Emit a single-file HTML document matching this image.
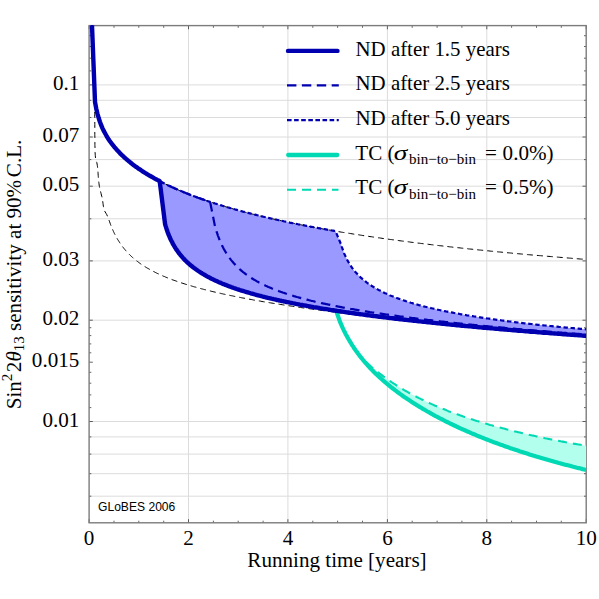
<!DOCTYPE html>
<html><head><meta charset="utf-8"><title>chart</title><style>html,body{margin:0;padding:0;background:#fff}svg{display:block}</style></head><body>
<svg width="599" height="599" viewBox="0 0 599 599">
<defs><clipPath id="c"><rect x="88.8" y="25.1" width="497.6" height="498.1"/></clipPath></defs>
<rect width="599" height="599" fill="#fff"/>
<path d="M188.5,25.6 V522.9 M287.9,25.6 V522.9 M387.4,25.6 V522.9 M486.8,25.6 V522.9 M89.1,84.9 H586.2 M89.1,100.3 H586.2 M89.1,117.5 H586.2 M89.1,137.0 H586.2 M89.1,159.6 H586.2 M89.1,186.2 H586.2 M89.1,218.8 H586.2 M89.1,260.9 H586.2 M89.1,320.2 H586.2 M89.1,421.5 H586.2 M89.1,436.9 H586.2 M89.1,454.1 H586.2 M89.1,473.7 H586.2 M89.1,496.2 H586.2" stroke="#dcdcdc" stroke-width="1" fill="none"/>
<path d="M89.1,522.9 v-3.7 M89.1,25.6 v3.7 M114.0,522.9 v-2.2 M114.0,25.6 v2.2 M138.8,522.9 v-2.2 M138.8,25.6 v2.2 M163.7,522.9 v-2.2 M163.7,25.6 v2.2 M188.5,522.9 v-3.7 M188.5,25.6 v3.7 M213.4,522.9 v-2.2 M213.4,25.6 v2.2 M238.2,522.9 v-2.2 M238.2,25.6 v2.2 M263.1,522.9 v-2.2 M263.1,25.6 v2.2 M287.9,522.9 v-3.7 M287.9,25.6 v3.7 M312.8,522.9 v-2.2 M312.8,25.6 v2.2 M337.6,522.9 v-2.2 M337.6,25.6 v2.2 M362.5,522.9 v-2.2 M362.5,25.6 v2.2 M387.4,522.9 v-3.7 M387.4,25.6 v3.7 M412.2,522.9 v-2.2 M412.2,25.6 v2.2 M437.1,522.9 v-2.2 M437.1,25.6 v2.2 M461.9,522.9 v-2.2 M461.9,25.6 v2.2 M486.8,522.9 v-3.7 M486.8,25.6 v3.7 M511.6,522.9 v-2.2 M511.6,25.6 v2.2 M536.5,522.9 v-2.2 M536.5,25.6 v2.2 M561.3,522.9 v-2.2 M561.3,25.6 v2.2 M586.2,522.9 v-3.7 M586.2,25.6 v3.7 M89.1,35.7 h2.2 M586.2,35.7 h-2.2 M89.1,46.5 h2.2 M586.2,46.5 h-2.2 M89.1,58.2 h2.2 M586.2,58.2 h-2.2 M89.1,70.9 h2.2 M586.2,70.9 h-2.2 M89.1,84.9 h3.7 M586.2,84.9 h-3.7 M89.1,100.3 h2.2 M586.2,100.3 h-2.2 M89.1,117.5 h2.2 M586.2,117.5 h-2.2 M89.1,137.0 h3.7 M586.2,137.0 h-3.7 M89.1,159.6 h2.2 M586.2,159.6 h-2.2 M89.1,186.2 h3.7 M586.2,186.2 h-3.7 M89.1,218.8 h2.2 M586.2,218.8 h-2.2 M89.1,260.9 h3.7 M586.2,260.9 h-3.7 M89.1,320.2 h3.7 M586.2,320.2 h-3.7 M89.1,327.7 h2.2 M586.2,327.7 h-2.2 M89.1,335.6 h2.2 M586.2,335.6 h-2.2 M89.1,343.9 h2.2 M586.2,343.9 h-2.2 M89.1,352.8 h2.2 M586.2,352.8 h-2.2 M89.1,362.2 h3.7 M586.2,362.2 h-3.7 M89.1,372.3 h2.2 M586.2,372.3 h-2.2 M89.1,383.2 h2.2 M586.2,383.2 h-2.2 M89.1,394.9 h2.2 M586.2,394.9 h-2.2 M89.1,407.6 h2.2 M586.2,407.6 h-2.2 M89.1,421.5 h3.7 M586.2,421.5 h-3.7 M89.1,436.9 h2.2 M586.2,436.9 h-2.2 M89.1,454.1 h2.2 M586.2,454.1 h-2.2 M89.1,473.7 h2.2 M586.2,473.7 h-2.2 M89.1,496.2 h2.2 M586.2,496.2 h-2.2" stroke="#222" stroke-width="0.7" fill="none"/>
<rect x="89.1" y="25.6" width="497.1" height="497.2" fill="none" stroke="#7c7c7c" stroke-width="1.4"/>
<g clip-path="url(#c)" fill="none" stroke-linejoin="round">
<path d="M159.7,181.2 L160.9,181.8 L162.1,182.4 L163.3,183.0 L164.5,183.6 L165.7,184.2 L166.9,184.8 L168.1,185.4 L169.3,185.9 L170.5,186.5 L171.7,187.0 L172.9,187.6 L174.1,188.1 L175.4,188.7 L176.6,189.2 L177.8,189.7 L179.0,190.2 L180.2,190.7 L181.4,191.2 L182.6,191.7 L183.8,192.2 L185.0,192.7 L186.2,193.2 L187.4,193.7 L188.6,194.1 L189.8,194.6 L191.0,195.1 L192.2,195.5 L193.4,196.0 L194.6,196.4 L195.8,196.9 L197.0,197.3 L198.2,197.8 L199.4,198.2 L200.6,198.6 L201.8,199.0 L203.0,199.5 L204.3,199.9 L205.5,200.3 L206.7,200.7 L207.9,201.1 L209.1,201.5 L210.3,201.9 L211.5,202.3 L212.7,202.7 L213.9,203.1 L215.1,203.5 L216.3,203.8 L217.5,204.2 L218.7,204.6 L219.9,205.0 L221.1,205.3 L222.3,205.7 L223.5,206.1 L224.7,206.4 L225.9,206.8 L227.1,207.1 L228.3,207.5 L229.5,207.8 L230.7,208.2 L231.9,208.5 L233.2,208.9 L234.4,209.2 L235.6,209.6 L236.8,209.9 L238.0,210.2 L239.2,210.6 L240.4,210.9 L241.6,211.2 L242.8,211.5 L244.0,211.8 L245.2,212.2 L246.4,212.5 L247.6,212.8 L248.8,213.1 L250.0,213.4 L251.2,213.7 L252.4,214.0 L253.6,214.3 L254.8,214.6 L256.0,214.9 L257.2,215.2 L258.4,215.5 L259.6,215.8 L260.8,216.1 L262.0,216.4 L263.3,216.7 L264.5,217.0 L265.7,217.2 L266.9,217.5 L268.1,217.8 L269.3,218.1 L270.5,218.4 L271.7,218.6 L272.9,218.9 L274.1,219.2 L275.3,219.4 L276.5,219.7 L277.7,220.0 L278.9,220.2 L280.1,220.5 L281.3,220.8 L282.5,221.0 L283.7,221.3 L284.9,221.5 L286.1,221.8 L287.3,222.0 L288.5,222.3 L289.7,222.5 L290.9,222.8 L292.2,223.0 L293.4,223.3 L294.6,223.5 L295.8,223.8 L297.0,224.0 L298.2,224.3 L299.4,224.5 L300.6,224.7 L301.8,225.0 L303.0,225.2 L304.2,225.4 L305.4,225.7 L306.6,225.9 L307.8,226.1 L309.0,226.4 L310.2,226.6 L311.4,226.8 L312.6,227.0 L313.8,227.3 L315.0,227.5 L316.2,227.7 L317.4,227.9 L318.6,228.2 L319.8,228.4 L321.1,228.6 L322.3,228.8 L323.5,229.0 L324.7,229.2 L325.9,229.4 L327.1,229.7 L328.3,229.9 L329.5,230.1 L330.7,230.3 L331.9,230.5 L333.1,230.7 L334.3,230.9 L335.5,231.1 L341.3,245.0 L341.3,245.2 L341.4,245.5 L341.6,246.0 L341.7,246.5 L341.9,247.1 L342.1,247.7 L342.4,248.4 L342.6,249.2 L342.9,249.9 L343.2,250.7 L343.5,251.6 L343.8,252.4 L344.1,253.3 L344.5,254.2 L344.9,255.0 L345.3,255.9 L345.7,256.8 L346.1,257.7 L346.5,258.6 L346.9,259.4 L347.4,260.3 L347.9,261.2 L348.4,262.0 L348.9,262.9 L349.4,263.7 L349.9,264.6 L350.4,265.4 L351.0,266.2 L351.5,267.0 L352.1,267.8 L352.7,268.6 L353.3,269.4 L353.9,270.2 L354.5,270.9 L355.1,271.7 L355.8,272.4 L356.4,273.1 L357.1,273.8 L357.7,274.5 L358.4,275.2 L359.1,275.9 L359.8,276.6 L360.5,277.3 L361.2,277.9 L362.0,278.6 L362.7,279.2 L363.5,279.8 L364.2,280.5 L365.0,281.1 L365.8,281.7 L366.5,282.3 L367.3,282.9 L368.2,283.5 L369.0,284.0 L369.8,284.6 L370.6,285.1 L371.5,285.7 L372.3,286.2 L373.2,286.8 L374.0,287.3 L374.9,287.8 L375.8,288.3 L376.7,288.9 L377.6,289.4 L378.5,289.9 L379.4,290.3 L380.4,290.8 L381.3,291.3 L382.3,291.8 L383.2,292.2 L384.2,292.7 L385.1,293.2 L386.1,293.6 L387.1,294.0 L388.1,294.5 L389.1,294.9 L390.1,295.4 L391.1,295.8 L392.2,296.2 L393.2,296.6 L394.2,297.0 L395.3,297.4 L396.3,297.8 L397.4,298.2 L398.5,298.6 L399.6,299.0 L400.6,299.4 L401.7,299.8 L402.8,300.2 L404.0,300.5 L405.1,300.9 L406.2,301.3 L407.3,301.6 L408.5,302.0 L409.6,302.3 L410.8,302.7 L411.9,303.0 L413.1,303.4 L414.3,303.7 L415.5,304.1 L416.6,304.4 L417.8,304.7 L419.0,305.1 L420.3,305.4 L421.5,305.7 L422.7,306.0 L423.9,306.4 L425.2,306.7 L426.4,307.0 L427.7,307.3 L428.9,307.6 L430.2,307.9 L431.5,308.2 L432.8,308.5 L434.0,308.8 L435.3,309.1 L436.6,309.4 L437.9,309.7 L439.3,310.0 L440.6,310.3 L441.9,310.5 L443.2,310.8 L444.6,311.1 L445.9,311.4 L447.3,311.6 L448.6,311.9 L450.0,312.2 L451.4,312.4 L452.8,312.7 L454.1,313.0 L455.5,313.2 L456.9,313.5 L458.3,313.7 L459.7,314.0 L461.2,314.3 L462.6,314.5 L464.0,314.8 L465.4,315.0 L466.9,315.3 L468.3,315.5 L469.8,315.7 L471.3,316.0 L472.7,316.2 L474.2,316.5 L475.7,316.7 L477.2,316.9 L478.7,317.2 L480.2,317.4 L481.7,317.6 L483.2,317.8 L484.7,318.1 L486.2,318.3 L487.7,318.5 L489.3,318.7 L490.8,319.0 L492.4,319.2 L493.9,319.4 L495.5,319.6 L497.0,319.8 L498.6,320.0 L500.2,320.2 L501.8,320.5 L503.3,320.7 L504.9,320.9 L506.5,321.1 L508.1,321.3 L509.8,321.5 L511.4,321.7 L513.0,321.9 L514.6,322.1 L516.3,322.3 L517.9,322.5 L519.5,322.7 L521.2,322.9 L522.9,323.1 L524.5,323.3 L526.2,323.4 L527.9,323.6 L529.5,323.8 L531.2,324.0 L532.9,324.2 L534.6,324.4 L536.3,324.6 L538.0,324.8 L539.7,324.9 L541.5,325.1 L543.2,325.3 L544.9,325.5 L546.6,325.7 L548.4,325.8 L550.1,326.0 L551.9,326.2 L553.6,326.4 L555.4,326.5 L557.2,326.7 L558.9,326.9 L560.7,327.0 L562.5,327.2 L564.3,327.4 L566.1,327.6 L567.9,327.7 L569.7,327.9 L571.5,328.0 L573.3,328.2 L575.2,328.4 L577.0,328.5 L578.8,328.7 L580.7,328.9 L582.5,329.0 L584.3,329.2 L586.2,329.3 L586.2,335.8 L584.3,335.7 L582.4,335.6 L580.6,335.4 L578.7,335.3 L576.8,335.1 L574.9,335.0 L573.1,334.9 L571.2,334.7 L569.3,334.6 L567.5,334.5 L565.6,334.3 L563.8,334.2 L561.9,334.1 L560.1,333.9 L558.2,333.8 L556.4,333.6 L554.6,333.5 L552.7,333.4 L550.9,333.2 L549.1,333.1 L547.3,332.9 L545.5,332.8 L543.6,332.7 L541.8,332.5 L540.0,332.4 L538.2,332.2 L536.4,332.1 L534.6,331.9 L532.8,331.8 L531.0,331.7 L529.2,331.5 L527.5,331.4 L525.7,331.2 L523.9,331.1 L522.1,330.9 L520.3,330.8 L518.6,330.7 L516.8,330.5 L515.0,330.4 L513.3,330.2 L511.5,330.1 L509.8,329.9 L508.0,329.8 L506.3,329.6 L504.5,329.5 L502.8,329.3 L501.1,329.2 L499.3,329.0 L497.6,328.9 L495.9,328.7 L494.2,328.6 L492.4,328.4 L490.7,328.3 L489.0,328.1 L487.3,328.0 L485.6,327.8 L483.9,327.7 L482.2,327.5 L480.5,327.4 L478.8,327.2 L477.1,327.1 L475.4,326.9 L473.8,326.8 L472.1,326.6 L470.4,326.4 L468.7,326.3 L467.1,326.1 L465.4,326.0 L463.7,325.8 L462.1,325.7 L460.4,325.5 L458.8,325.4 L457.1,325.2 L455.5,325.0 L453.8,324.9 L452.2,324.7 L450.6,324.6 L448.9,324.4 L447.3,324.2 L445.7,324.1 L444.1,323.9 L442.5,323.8 L440.9,323.6 L439.2,323.4 L437.6,323.3 L436.0,323.1 L434.4,322.9 L432.8,322.8 L431.3,322.6 L429.7,322.4 L428.1,322.3 L426.5,322.1 L424.9,321.9 L423.4,321.8 L421.8,321.6 L420.2,321.4 L418.7,321.3 L417.1,321.1 L415.5,320.9 L414.0,320.8 L412.4,320.6 L410.9,320.4 L409.4,320.2 L407.8,320.1 L406.3,319.9 L404.8,319.7 L403.2,319.6 L401.7,319.4 L400.2,319.2 L398.7,319.0 L397.2,318.9 L395.7,318.7 L394.2,318.5 L392.7,318.3 L391.2,318.1 L389.7,318.0 L388.2,317.8 L386.7,317.6 L385.2,317.4 L383.7,317.2 L382.3,317.1 L380.8,316.9 L379.3,316.7 L377.9,316.5 L376.4,316.3 L374.9,316.1 L373.5,316.0 L372.0,315.8 L370.6,315.6 L369.2,315.4 L367.7,315.2 L366.3,315.0 L364.9,314.8 L363.4,314.6 L362.0,314.4 L360.6,314.3 L359.2,314.1 L357.8,313.9 L356.4,313.7 L355.0,313.5 L353.6,313.3 L352.2,313.1 L350.8,312.9 L349.4,312.7 L348.0,312.5 L346.6,312.3 L345.3,312.1 L343.9,311.9 L342.5,311.7 L341.2,311.5 L339.8,311.3 L338.4,311.1 L337.1,310.9 L335.8,310.7 L334.4,310.5 L333.1,310.3 L331.7,310.1 L330.4,309.9 L329.1,309.6 L327.8,309.4 L326.4,309.2 L325.1,309.0 L323.8,308.8 L322.5,308.6 L321.2,308.4 L319.9,308.2 L318.6,307.9 L317.3,307.7 L316.0,307.5 L314.7,307.3 L313.5,307.1 L312.2,306.8 L310.9,306.6 L309.7,306.4 L308.4,306.2 L307.1,306.0 L305.9,305.7 L304.6,305.5 L303.4,305.3 L302.1,305.0 L300.9,304.8 L299.7,304.6 L298.5,304.3 L297.2,304.1 L296.0,303.9 L294.8,303.6 L293.6,303.4 L292.4,303.2 L291.2,302.9 L290.0,302.7 L288.8,302.4 L287.6,302.2 L286.4,302.0 L285.2,301.7 L284.0,301.5 L282.9,301.2 L281.7,301.0 L280.5,300.7 L279.4,300.5 L278.2,300.2 L277.1,300.0 L275.9,299.7 L274.8,299.4 L273.6,299.2 L272.5,298.9 L271.4,298.7 L270.3,298.4 L269.1,298.1 L268.0,297.9 L266.9,297.6 L265.8,297.3 L264.7,297.0 L263.6,296.8 L262.5,296.5 L261.4,296.2 L260.4,295.9 L259.3,295.7 L258.2,295.4 L257.1,295.1 L256.1,294.8 L255.0,294.5 L253.9,294.2 L252.9,293.9 L251.9,293.6 L250.8,293.3 L249.8,293.0 L248.7,292.7 L247.7,292.4 L246.7,292.1 L245.7,291.8 L244.7,291.5 L243.7,291.2 L242.7,290.9 L241.7,290.6 L240.7,290.3 L239.7,290.0 L238.7,289.6 L237.7,289.3 L236.7,289.0 L235.8,288.7 L234.8,288.3 L233.8,288.0 L232.9,287.7 L231.9,287.3 L231.0,287.0 L230.1,286.6 L229.1,286.3 L228.2,285.9 L227.3,285.6 L226.4,285.2 L225.4,284.9 L224.5,284.5 L223.6,284.1 L222.7,283.8 L221.8,283.4 L221.0,283.0 L220.1,282.6 L219.2,282.3 L218.3,281.9 L217.5,281.5 L216.6,281.1 L215.7,280.7 L214.9,280.3 L214.0,279.9 L213.2,279.5 L212.4,279.1 L211.5,278.7 L210.7,278.3 L209.9,277.8 L209.1,277.4 L208.3,277.0 L207.5,276.6 L206.7,276.1 L205.9,275.7 L205.1,275.2 L204.3,274.8 L203.6,274.3 L202.8,273.9 L202.0,273.4 L201.3,272.9 L200.5,272.5 L199.8,272.0 L199.1,271.5 L198.3,271.0 L197.6,270.5 L196.9,270.0 L196.2,269.5 L195.5,269.0 L194.8,268.5 L194.1,268.0 L193.4,267.5 L192.7,266.9 L192.0,266.4 L191.3,265.8 L190.7,265.3 L190.0,264.7 L189.4,264.2 L188.7,263.6 L188.1,263.0 L187.5,262.5 L186.8,261.9 L186.2,261.3 L185.6,260.7 L185.0,260.1 L184.4,259.5 L183.8,258.8 L183.2,258.2 L182.7,257.6 L182.1,256.9 L181.5,256.3 L181.0,255.6 L180.4,255.0 L179.9,254.3 L179.3,253.6 L178.8,252.9 L178.3,252.2 L177.8,251.5 L177.3,250.8 L176.8,250.1 L176.3,249.4 L175.8,248.7 L175.3,247.9 L174.9,247.2 L174.4,246.4 L174.0,245.7 L173.5,244.9 L173.1,244.2 L172.7,243.4 L172.3,242.6 L171.9,241.8 L171.5,241.0 L171.1,240.3 L170.7,239.5 L170.3,238.7 L170.0,237.9 L169.6,237.1 L169.3,236.3 L169.0,235.5 L168.6,234.7 L168.3,233.9 L168.0,233.1 L167.7,232.4 L167.5,231.6 L167.2,230.9 L166.9,230.1 L166.7,229.4 L166.5,228.7 L166.3,228.1 L166.1,227.4 L165.9,226.8 L165.7,226.3 L165.6,225.8 L165.4,225.3 L165.3,224.9 L165.2,224.6 L165.1,224.3 L165.1,224.2Z" fill="#9999ff" stroke="none"/>
<path d="M362.0,358.3 L362.0,358.3 L362.1,358.4 L362.3,358.5 L362.5,358.7 L362.6,358.9 L362.9,359.1 L363.1,359.3 L363.4,359.6 L363.7,359.8 L364.0,360.1 L364.3,360.4 L364.6,360.7 L365.0,361.1 L365.4,361.4 L365.8,361.8 L366.2,362.1 L366.6,362.5 L367.0,362.9 L367.5,363.3 L368.0,363.8 L368.4,364.2 L368.9,364.6 L369.5,365.1 L370.0,365.5 L370.5,366.0 L371.1,366.5 L371.6,367.0 L372.2,367.5 L372.8,368.0 L373.4,368.5 L374.0,369.0 L374.6,369.5 L375.3,370.0 L375.9,370.6 L376.6,371.1 L377.3,371.6 L378.0,372.2 L378.6,372.7 L379.4,373.3 L380.1,373.8 L380.8,374.4 L381.5,375.0 L382.3,375.5 L383.1,376.1 L383.8,376.7 L384.6,377.2 L385.4,377.8 L386.2,378.4 L387.0,379.0 L387.8,379.6 L388.7,380.1 L389.5,380.7 L390.4,381.3 L391.2,381.9 L392.1,382.5 L393.0,383.1 L393.9,383.7 L394.8,384.2 L395.7,384.8 L396.6,385.4 L397.5,386.0 L398.4,386.6 L399.4,387.2 L400.3,387.8 L401.3,388.3 L402.3,388.9 L403.3,389.5 L404.2,390.1 L405.2,390.7 L406.2,391.2 L407.3,391.8 L408.3,392.4 L409.3,393.0 L410.4,393.5 L411.4,394.1 L412.5,394.7 L413.5,395.3 L414.6,395.8 L415.7,396.4 L416.8,397.0 L417.9,397.5 L419.0,398.1 L420.1,398.6 L421.2,399.2 L422.4,399.7 L423.5,400.3 L424.7,400.8 L425.8,401.4 L427.0,401.9 L428.2,402.5 L429.3,403.0 L430.5,403.6 L431.7,404.1 L432.9,404.6 L434.1,405.2 L435.3,405.7 L436.6,406.2 L437.8,406.7 L439.0,407.3 L440.3,407.8 L441.6,408.3 L442.8,408.8 L444.1,409.3 L445.4,409.8 L446.7,410.4 L447.9,410.9 L449.2,411.4 L450.6,411.9 L451.9,412.4 L453.2,412.9 L454.5,413.3 L455.9,413.8 L457.2,414.3 L458.6,414.8 L459.9,415.3 L461.3,415.8 L462.7,416.3 L464.0,416.7 L465.4,417.2 L466.8,417.7 L468.2,418.1 L469.6,418.6 L471.0,419.1 L472.5,419.5 L473.9,420.0 L475.3,420.4 L476.8,420.9 L478.2,421.3 L479.7,421.8 L481.1,422.2 L482.6,422.7 L484.1,423.1 L485.6,423.6 L487.1,424.0 L488.6,424.4 L490.1,424.9 L491.6,425.3 L493.1,425.7 L494.6,426.1 L496.1,426.6 L497.7,427.0 L499.2,427.4 L500.8,427.8 L502.3,428.2 L503.9,428.6 L505.5,429.0 L507.0,429.4 L508.6,429.8 L510.2,430.2 L511.8,430.6 L513.4,431.0 L515.0,431.4 L516.6,431.8 L518.2,432.2 L519.9,432.6 L521.5,433.0 L523.1,433.4 L524.8,433.8 L526.4,434.1 L528.1,434.5 L529.8,434.9 L531.4,435.3 L533.1,435.6 L534.8,436.0 L536.5,436.4 L538.2,436.7 L539.9,437.1 L541.6,437.4 L543.3,437.8 L545.0,438.2 L546.7,438.5 L548.5,438.9 L550.2,439.2 L551.9,439.6 L553.7,439.9 L555.4,440.2 L557.2,440.6 L559.0,440.9 L560.8,441.3 L562.5,441.6 L564.3,441.9 L566.1,442.3 L567.9,442.6 L569.7,442.9 L571.5,443.2 L573.3,443.6 L575.2,443.9 L577.0,444.2 L578.8,444.5 L580.7,444.8 L582.5,445.2 L584.3,445.5 L586.2,445.8 L586.2,470.0 L584.3,469.5 L582.5,469.1 L580.6,468.6 L578.8,468.1 L577.0,467.7 L575.1,467.2 L573.3,466.8 L571.5,466.3 L569.7,465.8 L567.9,465.3 L566.1,464.9 L564.3,464.4 L562.5,463.9 L560.7,463.4 L558.9,463.0 L557.2,462.5 L555.4,462.0 L553.6,461.5 L551.9,461.0 L550.1,460.5 L548.4,460.0 L546.6,459.5 L544.9,459.0 L543.1,458.5 L541.4,458.0 L539.7,457.5 L538.0,457.0 L536.3,456.5 L534.6,455.9 L532.9,455.4 L531.2,454.9 L529.5,454.4 L527.8,453.8 L526.1,453.3 L524.5,452.8 L522.8,452.2 L521.1,451.7 L519.5,451.2 L517.8,450.6 L516.2,450.1 L514.6,449.5 L512.9,449.0 L511.3,448.4 L509.7,447.9 L508.1,447.3 L506.5,446.8 L504.9,446.2 L503.3,445.6 L501.7,445.1 L500.1,444.5 L498.5,443.9 L496.9,443.3 L495.4,442.7 L493.8,442.2 L492.3,441.6 L490.7,441.0 L489.2,440.4 L487.6,439.8 L486.1,439.2 L484.6,438.6 L483.1,438.0 L481.5,437.4 L480.0,436.8 L478.5,436.2 L477.0,435.6 L475.6,434.9 L474.1,434.3 L472.6,433.7 L471.1,433.1 L469.7,432.4 L468.2,431.8 L466.8,431.2 L465.3,430.5 L463.9,429.9 L462.4,429.3 L461.0,428.6 L459.6,428.0 L458.2,427.3 L456.8,426.7 L455.4,426.0 L454.0,425.3 L452.6,424.7 L451.2,424.0 L449.8,423.3 L448.5,422.7 L447.1,422.0 L445.7,421.3 L444.4,420.6 L443.0,419.9 L441.7,419.2 L440.4,418.6 L439.0,417.9 L437.7,417.2 L436.4,416.5 L435.1,415.8 L433.8,415.1 L432.5,414.3 L431.2,413.6 L430.0,412.9 L428.7,412.2 L427.4,411.5 L426.2,410.8 L424.9,410.0 L423.7,409.3 L422.4,408.6 L421.2,407.8 L420.0,407.1 L418.8,406.4 L417.6,405.6 L416.4,404.9 L415.2,404.1 L414.0,403.4 L412.8,402.6 L411.6,401.9 L410.5,401.1 L409.3,400.3 L408.2,399.6 L407.0,398.8 L405.9,398.0 L404.7,397.3 L403.6,396.5 L402.5,395.7 L401.4,394.9 L400.3,394.1 L399.2,393.3 L398.1,392.5 L397.0,391.7 L396.0,390.9 L394.9,390.1 L393.9,389.3 L392.8,388.5 L391.8,387.7 L390.7,386.9 L389.7,386.0 L388.7,385.2 L387.7,384.4 L386.7,383.5 L385.7,382.7 L384.7,381.9 L383.7,381.0 L382.8,380.2 L381.8,379.3 L380.9,378.5 L379.9,377.6 L379.0,376.8 L378.1,375.9 L377.1,375.0 L376.2,374.2 L375.3,373.3 L374.4,372.4 L373.5,371.5 L372.7,370.6 L371.8,369.7 L370.9,368.9 L370.1,368.0 L369.3,367.1 L368.4,366.2 L367.6,365.3 L366.8,364.3 L366.0,363.4 L365.2,362.5 L364.4,361.6 L363.6,360.7 L362.9,359.8 L362.1,358.8Z" fill="#b3ffee" stroke="none"/>
<path d="M92.0,25.4 L95.0,101.9 L96.2,108.4 L97.4,113.5 L98.6,117.8 L99.8,121.4 L101.0,124.6 L102.2,127.5 L103.4,130.1 L104.6,132.5 L105.8,134.7 L107.0,136.7 L108.2,138.7 L109.4,140.5 L110.6,142.2 L111.8,143.8 L113.0,145.4 L114.2,146.8 L115.4,148.3 L116.6,149.6 L117.8,150.9 L119.0,152.2 L120.2,153.4 L121.4,154.6 L122.6,155.8 L123.8,156.9 L125.0,158.0 L126.2,159.1 L127.4,160.1 L128.6,161.1 L129.8,162.1 L131.0,163.0 L132.2,164.0 L133.4,164.9 L134.6,165.8 L135.8,166.7 L137.0,167.5 L138.2,168.4 L139.4,169.2 L140.6,170.0 L141.8,170.8 L143.0,171.6 L144.2,172.3 L145.4,173.1 L146.6,173.8 L147.8,174.6 L149.0,175.3 L150.2,176.0 L151.4,176.7 L152.6,177.4 L153.8,178.0 L155.0,178.7 L156.2,179.4 L157.5,180.0 L158.7,180.6 L159.9,181.3 L161.1,181.9 L162.3,182.5 L163.5,183.1 L164.7,183.7 L165.9,184.3 L167.1,184.8 L168.3,185.4 L169.5,186.0 L170.7,186.5 L171.9,187.1 L173.1,187.6 L174.3,188.2 L175.5,188.7 L176.7,189.2 L177.9,189.7 L179.1,190.3 L180.3,190.8 L181.5,191.3 L182.7,191.8 L183.9,192.3 L185.1,192.7 L186.3,193.2 L187.5,193.7 L188.7,194.2 L189.9,194.6 L191.1,195.1 L192.3,195.6 L193.5,196.0 L194.7,196.5 L195.9,196.9 L197.1,197.3 L198.3,197.8 L199.5,198.2 L200.7,198.6 L201.9,199.1 L203.1,199.5 L204.3,199.9 L205.5,200.3 L206.7,200.7 L207.9,201.1 L209.1,201.5 L210.3,201.9 L211.5,202.3 L212.7,202.7 L213.9,203.1 L215.1,203.5 L216.3,203.8 L217.5,204.2 L218.7,204.6 L219.9,205.0 L221.1,205.3 L222.3,205.7 L223.5,206.1 L224.7,206.4 L225.9,206.8 L227.1,207.1 L228.3,207.5 L229.5,207.8 L230.7,208.2 L231.9,208.5 L233.1,208.9 L234.3,209.2 L235.5,209.5 L236.7,209.9 L237.9,210.2 L239.1,210.5 L240.3,210.9 L241.5,211.2 L242.7,211.5 L243.9,211.8 L245.1,212.1 L246.3,212.5 L247.5,212.8 L248.7,213.1 L249.9,213.4 L251.1,213.7 L252.3,214.0 L253.5,214.3 L254.7,214.6 L255.9,214.9 L257.1,215.2 L258.3,215.5 L259.5,215.8 L260.7,216.1 L261.9,216.4 L263.1,216.6 L264.3,216.9 L265.5,217.2 L266.7,217.5 L267.9,217.8 L269.1,218.0 L270.3,218.3 L271.5,218.6 L272.7,218.9 L273.9,219.1 L275.1,219.4 L276.3,219.7 L277.5,219.9 L278.7,220.2 L280.0,220.5 L281.2,220.7 L282.4,221.0 L283.6,221.2 L284.8,221.5 L286.0,221.8 L287.2,222.0 L288.4,222.3 L289.6,222.5 L290.8,222.8 L292.0,223.0 L293.2,223.2 L294.4,223.5 L295.6,223.7 L296.8,224.0 L298.0,224.2 L299.2,224.5 L300.4,224.7 L301.6,224.9 L302.8,225.2 L304.0,225.4 L305.2,225.6 L306.4,225.9 L307.6,226.1 L308.8,226.3 L310.0,226.5 L311.2,226.8 L312.4,227.0 L313.6,227.2 L314.8,227.4 L316.0,227.7 L317.2,227.9 L318.4,228.1 L319.6,228.3 L320.8,228.5 L322.0,228.8 L323.2,229.0 L324.4,229.2 L325.6,229.4 L326.8,229.6 L328.0,229.8 L329.2,230.0 L330.4,230.2 L331.6,230.4 L332.8,230.6 L334.0,230.8 L335.2,231.1 L336.4,231.3 L337.6,231.5 L338.8,231.7 L340.0,231.9 L341.2,232.1 L342.4,232.3 L343.6,232.5 L344.8,232.6 L346.0,232.8 L347.2,233.0 L348.4,233.2 L349.6,233.4 L350.8,233.6 L352.0,233.8 L353.2,234.0 L354.4,234.2 L355.6,234.4 L356.8,234.6 L358.0,234.7 L359.2,234.9 L360.4,235.1 L361.6,235.3 L362.8,235.5 L364.0,235.7 L365.2,235.8 L366.4,236.0 L367.6,236.2 L368.8,236.4 L370.0,236.6 L371.2,236.7 L372.4,236.9 L373.6,237.1 L374.8,237.3 L376.0,237.4 L377.2,237.6 L378.4,237.8 L379.6,237.9 L380.8,238.1 L382.0,238.3 L383.2,238.5 L384.4,238.6 L385.6,238.8 L386.8,239.0 L388.0,239.1 L389.2,239.3 L390.4,239.5 L391.6,239.6 L392.8,239.8 L394.0,239.9 L395.2,240.1 L396.4,240.3 L397.6,240.4 L398.8,240.6 L400.0,240.8 L401.2,240.9 L402.5,241.1 L403.7,241.2 L404.9,241.4 L406.1,241.5 L407.3,241.7 L408.5,241.8 L409.7,242.0 L410.9,242.2 L412.1,242.3 L413.3,242.5 L414.5,242.6 L415.7,242.8 L416.9,242.9 L418.1,243.1 L419.3,243.2 L420.5,243.4 L421.7,243.5 L422.9,243.7 L424.1,243.8 L425.3,243.9 L426.5,244.1 L427.7,244.2 L428.9,244.4 L430.1,244.5 L431.3,244.7 L432.5,244.8 L433.7,245.0 L434.9,245.1 L436.1,245.2 L437.3,245.4 L438.5,245.5 L439.7,245.7 L440.9,245.8 L442.1,245.9 L443.3,246.1 L444.5,246.2 L445.7,246.3 L446.9,246.5 L448.1,246.6 L449.3,246.8 L450.5,246.9 L451.7,247.0 L452.9,247.2 L454.1,247.3 L455.3,247.4 L456.5,247.6 L457.7,247.7 L458.9,247.8 L460.1,247.9 L461.3,248.1 L462.5,248.2 L463.7,248.3 L464.9,248.5 L466.1,248.6 L467.3,248.7 L468.5,248.9 L469.7,249.0 L470.9,249.1 L472.1,249.2 L473.3,249.4 L474.5,249.5 L475.7,249.6 L476.9,249.7 L478.1,249.9 L479.3,250.0 L480.5,250.1 L481.7,250.2 L482.9,250.3 L484.1,250.5 L485.3,250.6 L486.5,250.7 L487.7,250.8 L488.9,250.9 L490.1,251.1 L491.3,251.2 L492.5,251.3 L493.7,251.4 L494.9,251.5 L496.1,251.7 L497.3,251.8 L498.5,251.9 L499.7,252.0 L500.9,252.1 L502.1,252.2 L503.3,252.4 L504.5,252.5 L505.7,252.6 L506.9,252.7 L508.1,252.8 L509.3,252.9 L510.5,253.0 L511.7,253.1 L512.9,253.3 L514.1,253.4 L515.3,253.5 L516.5,253.6 L517.7,253.7 L518.9,253.8 L520.1,253.9 L521.3,254.0 L522.5,254.1 L523.7,254.2 L525.0,254.4 L526.2,254.5 L527.4,254.6 L528.6,254.7 L529.8,254.8 L531.0,254.9 L532.2,255.0 L533.4,255.1 L534.6,255.2 L535.8,255.3 L537.0,255.4 L538.2,255.5 L539.4,255.6 L540.6,255.7 L541.8,255.8 L543.0,255.9 L544.2,256.0 L545.4,256.1 L546.6,256.2 L547.8,256.3 L549.0,256.4 L550.2,256.5 L551.4,256.6 L552.6,256.7 L553.8,256.8 L555.0,256.9 L556.2,257.0 L557.4,257.1 L558.6,257.2 L559.8,257.3 L561.0,257.4 L562.2,257.5 L563.4,257.6 L564.6,257.7 L565.8,257.8 L567.0,257.9 L568.2,258.0 L569.4,258.1 L570.6,258.2 L571.8,258.3 L573.0,258.4 L574.2,258.5 L575.4,258.6 L576.6,258.7 L577.8,258.8 L579.0,258.9 L580.2,259.0 L581.4,259.1 L582.6,259.1 L583.8,259.2 L585.0,259.3 L586.2,259.4" stroke="#000" stroke-width="1" stroke-dasharray="6 4"/>
<path d="M94.6,102.0 L94.6,103.4 L94.6,104.8 L94.7,106.2 L94.7,107.6 L94.7,109.0 L94.7,110.5 L94.7,111.9 L94.7,113.3 L94.7,114.7 L94.7,116.1 L94.8,117.5 L94.8,118.9 L94.8,120.3 L94.8,121.7 L94.8,123.1 L94.8,124.5 L94.8,126.0 L94.8,127.4 L94.8,128.8 L94.8,130.2 L94.8,131.6 L94.8,133.0 L94.8,134.4 L94.8,135.8 L94.9,137.2 L94.9,138.6 L94.9,140.0 L94.9,141.5 L94.9,142.9 L94.9,144.3 L94.9,145.7 L95.0,147.1 L95.0,148.5 L95.0,149.9 L95.0,151.3 L95.1,152.7 L95.2,154.1 L95.3,155.5 L95.4,157.0 L95.6,158.4 L95.8,159.8 L96.2,161.2 L96.8,162.6 L97.1,164.0 L97.3,165.4 L97.5,166.8 L97.7,168.2 L97.8,169.6 L97.9,171.0 L98.0,172.4 L98.1,173.9 L98.2,175.3 L98.3,176.7 L98.4,178.1 L98.6,179.5 L98.7,180.9 L98.8,182.3 L99.0,183.7 L99.2,185.1 L99.4,186.5 L99.7,187.9 L100.0,189.4 L100.4,190.8 L100.7,192.2 L101.1,193.6 L101.4,195.0 L101.8,196.4 L102.1,197.8 L102.4,199.2 L102.6,200.6 L102.8,202.0 L103.0,203.4 L103.2,204.9 L103.4,206.3 L103.7,207.7 L104.0,209.1 L104.4,210.5 L105.1,211.9 L106.0,213.3 L106.8,214.7 L107.4,216.1 L108.0,217.5 L108.6,218.9 L109.1,220.4 L109.6,221.8 L110.1,223.2 L110.6,224.6 L111.1,226.0 L111.7,227.4 L111.7,227.5 L111.8,227.7 L111.9,227.9 L112.0,228.1 L112.1,228.4 L112.3,228.8 L112.4,229.1 L112.6,229.5 L112.8,230.0 L113.0,230.4 L113.2,230.9 L113.4,231.4 L113.7,231.9 L113.9,232.4 L114.2,232.9 L114.4,233.5 L114.7,234.0 L115.0,234.6 L115.3,235.2 L115.6,235.8 L115.9,236.4 L116.2,237.0 L116.6,237.6 L116.9,238.2 L117.3,238.8 L117.6,239.4 L118.0,240.0 L118.4,240.6 L118.8,241.2 L119.2,241.9 L119.6,242.5 L120.0,243.1 L120.4,243.7 L120.8,244.3 L121.2,244.9 L121.7,245.5 L122.1,246.1 L122.6,246.7 L123.1,247.3 L123.5,247.9 L124.0,248.5 L124.5,249.1 L125.0,249.7 L125.5,250.3 L126.0,250.9 L126.5,251.4 L127.0,252.0 L127.5,252.6 L128.1,253.1 L128.6,253.7 L129.1,254.2 L129.7,254.8 L130.2,255.3 L130.8,255.8 L131.4,256.4 L132.0,256.9 L132.5,257.4 L133.1,257.9 L133.7,258.5 L134.3,259.0 L134.9,259.5 L135.5,260.0 L136.2,260.5 L136.8,261.0 L137.4,261.4 L138.0,261.9 L138.7,262.4 L139.3,262.9 L140.0,263.3 L140.6,263.8 L141.3,264.3 L142.0,264.7 L142.7,265.2 L143.3,265.6 L144.0,266.1 L144.7,266.5 L145.4,266.9 L146.1,267.4 L146.8,267.8 L147.5,268.2 L148.3,268.6 L149.0,269.0 L149.7,269.4 L150.5,269.9 L151.2,270.3 L151.9,270.7 L152.7,271.1 L153.4,271.4 L154.2,271.8 L155.0,272.2 L155.7,272.6 L156.5,273.0 L157.3,273.4 L158.1,273.7 L158.9,274.1 L159.7,274.5 L160.5,274.8 L161.3,275.2 L162.1,275.6 L162.9,275.9 L163.7,276.3 L164.6,276.6 L165.4,277.0 L166.2,277.3 L167.1,277.7 L167.9,278.0 L168.8,278.3 L169.6,278.7 L170.5,279.0 L171.4,279.3 L172.2,279.7 L173.1,280.0 L174.0,280.3 L174.9,280.6 L175.8,280.9 L176.7,281.3 L177.6,281.6 L178.5,281.9 L179.4,282.2 L180.3,282.5 L181.2,282.8 L182.1,283.1 L183.0,283.4 L184.0,283.7 L184.9,284.0 L185.8,284.3 L186.8,284.6 L187.7,284.9 L188.7,285.2 L189.6,285.4 L190.6,285.7 L191.6,286.0 L192.5,286.3 L193.5,286.6 L194.5,286.9 L195.5,287.1 L196.5,287.4 L197.5,287.7 L198.5,288.0 L199.5,288.2 L200.5,288.5 L201.5,288.8 L202.5,289.0 L203.5,289.3 L204.5,289.6 L205.6,289.8 L206.6,290.1 L207.6,290.3 L208.7,290.6 L209.7,290.8 L210.7,291.1 L211.8,291.4 L212.9,291.6 L213.9,291.9 L215.0,292.1 L216.0,292.4 L217.1,292.6 L218.2,292.9 L219.3,293.1 L220.4,293.3 L221.4,293.6 L222.5,293.8 L223.6,294.1 L224.7,294.3 L225.8,294.5 L227.0,294.8 L228.1,295.0 L229.2,295.2 L230.3,295.5 L231.4,295.7 L232.6,295.9 L233.7,296.2 L234.8,296.4 L236.0,296.6 L237.1,296.9 L238.3,297.1 L239.4,297.3 L240.6,297.5 L241.7,297.8 L242.9,298.0 L244.1,298.2 L245.2,298.4 L246.4,298.7 L247.6,298.9 L248.8,299.1 L250.0,299.3 L251.2,299.5 L252.3,299.7 L253.5,300.0 L254.7,300.2 L256.0,300.4 L257.2,300.6 L258.4,300.8 L259.6,301.0 L260.8,301.2 L262.0,301.5 L263.3,301.7 L264.5,301.9 L265.7,302.1 L267.0,302.3 L268.2,302.5 L269.5,302.7 L270.7,302.9 L272.0,303.1 L273.2,303.3 L274.5,303.5 L275.8,303.7 L277.0,303.9 L278.3,304.1 L279.6,304.3 L280.9,304.5 L282.2,304.7 L283.4,304.9 L284.7,305.1 L286.0,305.3 L287.3,305.5 L288.6,305.7 L289.9,305.9 L291.2,306.1 L292.6,306.3 L293.9,306.5 L295.2,306.7 L296.5,306.9 L297.9,307.1 L299.2,307.3 L300.5,307.5 L301.9,307.7 L303.2,307.9 L304.5,308.1 L305.9,308.2 L307.2,308.4 L308.6,308.6 L310.0,308.8 L311.3,309.0 L312.7,309.2 L314.1,309.4 L315.4,309.6 L316.8,309.8 L318.2,309.9 L319.6,310.1 L321.0,310.3 L322.4,310.5 L323.8,310.7 L325.2,310.9 L326.6,311.1 L328.0,311.2 L329.4,311.4 L330.8,311.6 L332.2,311.8 L333.6,312.0 L335.0,312.1 L336.5,312.3 L337.9,312.5 L339.3,312.7 L340.8,312.9 L342.2,313.0 L343.6,313.2 L345.1,313.4 L346.5,313.6 L348.0,313.8 L349.4,313.9 L350.9,314.1 L352.4,314.3 L353.8,314.5 L355.3,314.6 L356.8,314.8 L358.2,315.0 L359.7,315.2 L361.2,315.4 L362.7,315.5 L364.2,315.7 L365.7,315.9 L367.2,316.0 L368.7,316.2 L370.2,316.4 L371.7,316.6 L373.2,316.7 L374.7,316.9 L376.2,317.1 L377.7,317.3 L379.2,317.4 L380.8,317.6 L382.3,317.8 L383.8,317.9 L385.4,318.1 L386.9,318.3 L388.4,318.4 L390.0,318.6 L391.5,318.8 L393.1,319.0 L394.6,319.1 L396.2,319.3 L397.8,319.5 L399.3,319.6 L400.9,319.8 L402.5,320.0 L404.0,320.1 L405.6,320.3 L407.2,320.5 L408.8,320.6 L410.4,320.8 L412.0,321.0 L413.5,321.1 L415.1,321.3 L416.7,321.5 L418.3,321.6 L419.9,321.8 L421.6,322.0 L423.2,322.1 L424.8,322.3 L426.4,322.4 L428.0,322.6 L429.6,322.8 L431.3,322.9 L432.9,323.1 L434.5,323.3 L436.2,323.4 L437.8,323.6 L439.4,323.7 L441.1,323.9 L442.7,324.1 L444.4,324.2 L446.0,324.4 L447.7,324.5 L449.4,324.7 L451.0,324.9 L452.7,325.0 L454.4,325.2 L456.0,325.3 L457.7,325.5 L459.4,325.7 L461.1,325.8 L462.8,326.0 L464.5,326.1 L466.1,326.3 L467.8,326.5 L469.5,326.6 L471.2,326.8 L472.9,326.9 L474.6,327.1 L476.4,327.2 L478.1,327.4 L479.8,327.6 L481.5,327.7 L483.2,327.9 L484.9,328.0 L486.7,328.2 L488.4,328.3 L490.1,328.5 L491.9,328.7 L493.6,328.8 L495.4,329.0 L497.1,329.1 L498.9,329.3 L500.6,329.4 L502.4,329.6 L504.1,329.7 L505.9,329.9 L507.6,330.1 L509.4,330.2 L511.2,330.4 L512.9,330.5 L514.7,330.7 L516.5,330.8 L518.3,331.0 L520.1,331.1 L521.8,331.3 L523.6,331.4 L525.4,331.6 L527.2,331.7 L529.0,331.9 L530.8,332.0 L532.6,332.2 L534.4,332.3 L536.2,332.5 L538.1,332.7 L539.9,332.8 L541.7,333.0 L543.5,333.1 L545.3,333.3 L547.2,333.4 L549.0,333.6 L550.8,333.7 L552.7,333.9 L554.5,334.0 L556.3,334.2 L558.2,334.3 L560.0,334.5 L561.9,334.6 L563.7,334.8 L565.6,334.9 L567.5,335.1 L569.3,335.2 L571.2,335.4 L573.0,335.5 L574.9,335.7 L576.8,335.8 L578.7,335.9 L580.5,336.1 L582.4,336.2 L584.3,336.4 L586.2,336.5" stroke="#000" stroke-width="1" stroke-dasharray="6 4"/>
<path d="M92.0,25.4 L95.0,101.9 L96.2,108.4 L97.4,113.5 L98.6,117.8 L99.8,121.5 L101.0,124.7 L102.2,127.5 L103.4,130.1 L104.6,132.5 L105.8,134.7 L107.0,136.8 L108.2,138.7 L109.4,140.5 L110.6,142.2 L111.8,143.8 L113.0,145.4 L114.2,146.9 L115.4,148.3 L116.6,149.7 L117.8,151.0 L119.0,152.2 L120.3,153.5 L121.5,154.7 L122.7,155.8 L123.9,156.9 L125.1,158.0 L126.3,159.1 L127.5,160.1 L128.7,161.1 L129.9,162.1 L131.1,163.1 L132.3,164.0 L133.5,164.9 L134.7,165.8 L135.9,166.7 L137.1,167.6 L138.3,168.4 L139.5,169.2 L140.7,170.0 L141.9,170.8 L143.1,171.6 L144.3,172.4 L145.5,173.1 L146.7,173.9 L147.9,174.6 L149.1,175.3 L150.3,176.0 L151.5,176.7 L152.7,177.4 L153.9,178.1 L155.1,178.7 L156.3,179.4 L157.5,180.0 L158.7,180.7 L159.9,181.3 L161.1,181.9 L162.3,182.5 L163.5,183.1 L164.7,183.7 L165.9,184.3 L167.1,184.9 L168.4,185.5 L169.6,186.0 L170.8,186.6 L172.0,187.1 L173.2,187.7 L174.4,188.2 L175.6,188.7 L176.8,189.3 L178.0,189.8 L179.2,190.3 L180.4,190.8 L181.6,191.3 L182.8,191.8 L184.0,192.3 L185.2,192.8 L186.4,193.3 L187.6,193.7 L188.8,194.2 L190.0,194.7 L191.2,195.1 L192.4,195.6 L193.6,196.1 L194.8,196.5 L196.0,196.9 L197.2,197.4 L198.4,197.8 L199.6,198.3 L200.8,198.7 L202.0,199.1 L203.2,199.5 L204.4,199.9 L205.6,200.3 L206.8,200.8 L208.0,201.2 L209.2,201.6 L210.4,202.0 L211.6,202.4 L212.8,202.7 L214.0,203.1 L215.2,203.5 L216.5,203.9 L217.7,204.3 L218.9,204.6 L220.1,205.0 L221.3,205.4 L222.5,205.8 L223.7,206.1 L224.9,206.5 L226.1,206.8 L227.3,207.2 L228.5,207.5 L229.7,207.9 L230.9,208.2 L232.1,208.6 L233.3,208.9 L234.5,209.3 L235.7,209.6 L236.9,209.9 L238.1,210.3 L239.3,210.6 L240.5,210.9 L241.7,211.2 L242.9,211.6 L244.1,211.9 L245.3,212.2 L246.5,212.5 L247.7,212.8 L248.9,213.1 L250.1,213.4 L251.3,213.7 L252.5,214.0 L253.7,214.3 L254.9,214.6 L256.1,214.9 L257.3,215.2 L258.5,215.5 L259.7,215.8 L260.9,216.1 L262.1,216.4 L263.4,216.7 L264.6,217.0 L265.8,217.3 L267.0,217.5 L268.2,217.8 L269.4,218.1 L270.6,218.4 L271.8,218.6 L273.0,218.9 L274.2,219.2 L275.4,219.5 L276.6,219.7 L277.8,220.0 L279.0,220.3 L280.2,220.5 L281.4,220.8 L282.6,221.0 L283.8,221.3 L285.0,221.5 L286.2,221.8 L287.4,222.1 L288.6,222.3 L289.8,222.6 L291.0,222.8 L292.2,223.1 L293.4,223.3 L294.6,223.5 L295.8,223.8 L297.0,224.0 L298.2,224.3 L299.4,224.5 L300.6,224.7 L301.8,225.0 L303.0,225.2 L304.2,225.4 L305.4,225.7 L306.6,225.9 L307.8,226.1 L309.0,226.4 L310.2,226.6 L311.4,226.8 L312.7,227.0 L313.9,227.3 L315.1,227.5 L316.3,227.7 L317.5,227.9 L318.7,228.2 L319.9,228.4 L321.1,228.6 L322.3,228.8 L323.5,229.0 L324.7,229.2 L325.9,229.4 L327.1,229.7 L328.3,229.9 L329.5,230.1 L330.7,230.3 L331.9,230.5 L333.1,230.7 L334.3,230.9 L335.5,231.1 L341.3,245.0 L341.3,245.2 L341.4,245.5 L341.6,246.0 L341.7,246.5 L341.9,247.1 L342.1,247.7 L342.4,248.4 L342.6,249.2 L342.9,249.9 L343.2,250.7 L343.5,251.6 L343.8,252.4 L344.1,253.3 L344.5,254.2 L344.9,255.0 L345.3,255.9 L345.7,256.8 L346.1,257.7 L346.5,258.6 L346.9,259.4 L347.4,260.3 L347.9,261.2 L348.4,262.0 L348.9,262.9 L349.4,263.7 L349.9,264.6 L350.4,265.4 L351.0,266.2 L351.5,267.0 L352.1,267.8 L352.7,268.6 L353.3,269.4 L353.9,270.2 L354.5,270.9 L355.1,271.7 L355.8,272.4 L356.4,273.1 L357.1,273.8 L357.7,274.5 L358.4,275.2 L359.1,275.9 L359.8,276.6 L360.5,277.3 L361.2,277.9 L362.0,278.6 L362.7,279.2 L363.5,279.8 L364.2,280.5 L365.0,281.1 L365.8,281.7 L366.5,282.3 L367.3,282.9 L368.2,283.5 L369.0,284.0 L369.8,284.6 L370.6,285.1 L371.5,285.7 L372.3,286.2 L373.2,286.8 L374.0,287.3 L374.9,287.8 L375.8,288.3 L376.7,288.9 L377.6,289.4 L378.5,289.9 L379.4,290.3 L380.4,290.8 L381.3,291.3 L382.3,291.8 L383.2,292.2 L384.2,292.7 L385.1,293.2 L386.1,293.6 L387.1,294.0 L388.1,294.5 L389.1,294.9 L390.1,295.4 L391.1,295.8 L392.2,296.2 L393.2,296.6 L394.2,297.0 L395.3,297.4 L396.3,297.8 L397.4,298.2 L398.5,298.6 L399.6,299.0 L400.6,299.4 L401.7,299.8 L402.8,300.2 L404.0,300.5 L405.1,300.9 L406.2,301.3 L407.3,301.6 L408.5,302.0 L409.6,302.3 L410.8,302.7 L411.9,303.0 L413.1,303.4 L414.3,303.7 L415.5,304.1 L416.6,304.4 L417.8,304.7 L419.0,305.1 L420.3,305.4 L421.5,305.7 L422.7,306.0 L423.9,306.4 L425.2,306.7 L426.4,307.0 L427.7,307.3 L428.9,307.6 L430.2,307.9 L431.5,308.2 L432.8,308.5 L434.0,308.8 L435.3,309.1 L436.6,309.4 L437.9,309.7 L439.3,310.0 L440.6,310.3 L441.9,310.5 L443.2,310.8 L444.6,311.1 L445.9,311.4 L447.3,311.6 L448.6,311.9 L450.0,312.2 L451.4,312.4 L452.8,312.7 L454.1,313.0 L455.5,313.2 L456.9,313.5 L458.3,313.7 L459.7,314.0 L461.2,314.3 L462.6,314.5 L464.0,314.8 L465.4,315.0 L466.9,315.3 L468.3,315.5 L469.8,315.7 L471.3,316.0 L472.7,316.2 L474.2,316.5 L475.7,316.7 L477.2,316.9 L478.7,317.2 L480.2,317.4 L481.7,317.6 L483.2,317.8 L484.7,318.1 L486.2,318.3 L487.7,318.5 L489.3,318.7 L490.8,319.0 L492.4,319.2 L493.9,319.4 L495.5,319.6 L497.0,319.8 L498.6,320.0 L500.2,320.2 L501.8,320.5 L503.3,320.7 L504.9,320.9 L506.5,321.1 L508.1,321.3 L509.8,321.5 L511.4,321.7 L513.0,321.9 L514.6,322.1 L516.3,322.3 L517.9,322.5 L519.5,322.7 L521.2,322.9 L522.9,323.1 L524.5,323.3 L526.2,323.4 L527.9,323.6 L529.5,323.8 L531.2,324.0 L532.9,324.2 L534.6,324.4 L536.3,324.6 L538.0,324.8 L539.7,324.9 L541.5,325.1 L543.2,325.3 L544.9,325.5 L546.6,325.7 L548.4,325.8 L550.1,326.0 L551.9,326.2 L553.6,326.4 L555.4,326.5 L557.2,326.7 L558.9,326.9 L560.7,327.0 L562.5,327.2 L564.3,327.4 L566.1,327.6 L567.9,327.7 L569.7,327.9 L571.5,328.0 L573.3,328.2 L575.2,328.4 L577.0,328.5 L578.8,328.7 L580.7,328.9 L582.5,329.0 L584.3,329.2 L586.2,329.3" stroke="#0000b0" stroke-width="2.2" stroke-dasharray="4.4 2.7"/>
<path d="M92.0,25.4 L95.0,101.9 L96.2,108.4 L97.4,113.6 L98.6,117.9 L99.8,121.6 L101.1,124.8 L102.3,127.7 L103.5,130.3 L104.7,132.7 L105.9,134.9 L107.1,136.9 L108.3,138.8 L109.5,140.6 L110.8,142.4 L112.0,144.0 L113.2,145.6 L114.4,147.0 L115.6,148.5 L116.8,149.8 L118.0,151.2 L119.2,152.4 L120.4,153.7 L121.7,154.9 L122.9,156.0 L124.1,157.1 L125.3,158.2 L126.5,159.3 L127.7,160.3 L128.9,161.3 L130.1,162.3 L131.3,163.3 L132.6,164.2 L133.8,165.1 L135.0,166.0 L136.2,166.9 L137.4,167.8 L138.6,168.6 L139.8,169.5 L141.0,170.3 L142.3,171.1 L143.5,171.9 L144.7,172.6 L145.9,173.4 L147.1,174.1 L148.3,174.8 L149.5,175.6 L150.7,176.3 L151.9,177.0 L153.2,177.7 L154.4,178.3 L155.6,179.0 L156.8,179.7 L158.0,180.3 L159.2,180.9 L160.4,181.6 L161.6,182.2 L162.8,182.8 L164.1,183.4 L165.3,184.0 L166.5,184.6 L167.7,185.2 L168.9,185.7 L170.1,186.3 L171.3,186.8 L172.5,187.4 L173.8,187.9 L175.0,188.5 L176.2,189.0 L177.4,189.5 L178.6,190.1 L179.8,190.6 L181.0,191.1 L182.2,191.6 L183.4,192.1 L184.7,192.6 L185.9,193.1 L187.1,193.5 L188.3,194.0 L189.5,194.5 L190.7,195.0 L191.9,195.4 L193.1,195.9 L194.3,196.3 L195.6,196.8 L196.8,197.2 L198.0,197.7 L199.2,198.1 L200.4,198.5 L201.6,199.0 L202.8,199.4 L204.0,199.8 L205.3,200.2 L206.5,200.6 L207.7,201.0 L208.9,201.4 L210.1,201.8 L215.0,226.4 L215.0,226.6 L215.1,226.8 L215.2,227.2 L215.3,227.6 L215.5,228.1 L215.7,228.6 L215.8,229.2 L216.0,229.8 L216.2,230.5 L216.5,231.2 L216.7,232.0 L217.0,232.8 L217.3,233.6 L217.5,234.4 L217.8,235.3 L218.1,236.1 L218.5,237.0 L218.8,237.9 L219.1,238.8 L219.5,239.7 L219.8,240.5 L220.2,241.4 L220.6,242.3 L221.0,243.2 L221.4,244.1 L221.8,245.0 L222.2,245.9 L222.7,246.8 L223.1,247.6 L223.6,248.5 L224.0,249.3 L224.5,250.2 L225.0,251.0 L225.5,251.8 L226.0,252.7 L226.5,253.5 L227.0,254.3 L227.5,255.1 L228.1,255.9 L228.6,256.6 L229.1,257.4 L229.7,258.2 L230.3,258.9 L230.8,259.6 L231.4,260.4 L232.0,261.1 L232.6,261.8 L233.2,262.5 L233.8,263.2 L234.4,263.9 L235.1,264.6 L235.7,265.2 L236.3,265.9 L237.0,266.6 L237.6,267.2 L238.3,267.8 L239.0,268.5 L239.6,269.1 L240.3,269.7 L241.0,270.3 L241.7,270.9 L242.4,271.5 L243.1,272.1 L243.8,272.6 L244.6,273.2 L245.3,273.8 L246.0,274.3 L246.8,274.8 L247.5,275.4 L248.3,275.9 L249.1,276.4 L249.8,277.0 L250.6,277.5 L251.4,278.0 L252.2,278.5 L253.0,279.0 L253.8,279.5 L254.6,279.9 L255.4,280.4 L256.2,280.9 L257.0,281.4 L257.9,281.8 L258.7,282.3 L259.6,282.7 L260.4,283.2 L261.3,283.6 L262.1,284.0 L263.0,284.5 L263.9,284.9 L264.8,285.3 L265.6,285.7 L266.5,286.1 L267.4,286.5 L268.3,286.9 L269.3,287.3 L270.2,287.7 L271.1,288.1 L272.0,288.5 L273.0,288.9 L273.9,289.3 L274.8,289.6 L275.8,290.0 L276.8,290.4 L277.7,290.7 L278.7,291.1 L279.7,291.4 L280.6,291.8 L281.6,292.1 L282.6,292.5 L283.6,292.8 L284.6,293.1 L285.6,293.5 L286.6,293.8 L287.6,294.1 L288.7,294.5 L289.7,294.8 L290.7,295.1 L291.8,295.4 L292.8,295.7 L293.8,296.1 L294.9,296.4 L296.0,296.7 L297.0,297.0 L298.1,297.3 L299.2,297.6 L300.3,297.9 L301.3,298.2 L302.4,298.5 L303.5,298.8 L304.6,299.1 L305.7,299.3 L306.8,299.6 L308.0,299.9 L309.1,300.2 L310.2,300.5 L311.3,300.8 L312.5,301.0 L313.6,301.3 L314.8,301.6 L315.9,301.8 L317.1,302.1 L318.2,302.4 L319.4,302.6 L320.6,302.9 L321.7,303.2 L322.9,303.4 L324.1,303.7 L325.3,303.9 L326.5,304.2 L327.7,304.4 L328.9,304.7 L330.1,304.9 L331.3,305.2 L332.5,305.4 L333.8,305.7 L335.0,305.9 L336.2,306.2 L337.5,306.4 L338.7,306.7 L339.9,306.9 L341.2,307.1 L342.4,307.4 L343.7,307.6 L345.0,307.8 L346.2,308.1 L347.5,308.3 L348.8,308.5 L350.1,308.8 L351.4,309.0 L352.7,309.2 L354.0,309.4 L355.3,309.7 L356.6,309.9 L357.9,310.1 L359.2,310.3 L360.5,310.6 L361.8,310.8 L363.2,311.0 L364.5,311.2 L365.8,311.4 L367.2,311.6 L368.5,311.8 L369.9,312.1 L371.2,312.3 L372.6,312.5 L374.0,312.7 L375.3,312.9 L376.7,313.1 L378.1,313.3 L379.5,313.5 L380.9,313.7 L382.3,313.9 L383.7,314.1 L385.1,314.3 L386.5,314.5 L387.9,314.7 L389.3,314.9 L390.7,315.1 L392.1,315.3 L393.5,315.5 L395.0,315.7 L396.4,315.9 L397.9,316.1 L399.3,316.3 L400.7,316.5 L402.2,316.7 L403.7,316.9 L405.1,317.1 L406.6,317.3 L408.0,317.5 L409.5,317.6 L411.0,317.8 L412.5,318.0 L414.0,318.2 L415.5,318.4 L416.9,318.6 L418.4,318.8 L419.9,318.9 L421.5,319.1 L423.0,319.3 L424.5,319.5 L426.0,319.7 L427.5,319.9 L429.0,320.0 L430.6,320.2 L432.1,320.4 L433.7,320.6 L435.2,320.8 L436.7,320.9 L438.3,321.1 L439.8,321.3 L441.4,321.5 L443.0,321.6 L444.5,321.8 L446.1,322.0 L447.7,322.1 L449.3,322.3 L450.8,322.5 L452.4,322.7 L454.0,322.8 L455.6,323.0 L457.2,323.2 L458.8,323.3 L460.4,323.5 L462.0,323.7 L463.7,323.8 L465.3,324.0 L466.9,324.2 L468.5,324.3 L470.2,324.5 L471.8,324.7 L473.4,324.8 L475.1,325.0 L476.7,325.2 L478.4,325.3 L480.0,325.5 L481.7,325.7 L483.3,325.8 L485.0,326.0 L486.7,326.1 L488.4,326.3 L490.0,326.5 L491.7,326.6 L493.4,326.8 L495.1,326.9 L496.8,327.1 L498.5,327.3 L500.2,327.4 L501.9,327.6 L503.6,327.7 L505.3,327.9 L507.0,328.0 L508.7,328.2 L510.5,328.3 L512.2,328.5 L513.9,328.6 L515.7,328.8 L517.4,329.0 L519.1,329.1 L520.9,329.3 L522.6,329.4 L524.4,329.6 L526.1,329.7 L527.9,329.9 L529.7,330.0 L531.4,330.2 L533.2,330.3 L535.0,330.5 L536.8,330.6 L538.6,330.8 L540.3,330.9 L542.1,331.1 L543.9,331.2 L545.7,331.3 L547.5,331.5 L549.3,331.6 L551.1,331.8 L553.0,331.9 L554.8,332.1 L556.6,332.2 L558.4,332.4 L560.2,332.5 L562.1,332.7 L563.9,332.8 L565.7,332.9 L567.6,333.1 L569.4,333.2 L571.3,333.4 L573.1,333.5 L575.0,333.7 L576.8,333.8 L578.7,333.9 L580.6,334.1 L582.4,334.2 L584.3,334.4 L586.2,334.5" stroke="#0000b0" stroke-width="2.2" stroke-dasharray="9.4 5.5"/>
<path d="M336.5,311.8 L340.0,321.7 L340.1,322.0 L340.4,322.7 L340.7,323.5 L341.2,324.5 L341.7,325.7 L342.2,326.9 L342.9,328.3 L343.6,329.7 L344.3,331.2 L345.1,332.8 L345.9,334.4 L346.8,336.1 L347.7,337.8 L348.7,339.5 L349.7,341.2 L350.8,342.9 L351.9,344.7 L353.0,346.4 L354.2,348.2 L355.4,350.0 L356.6,351.7 L357.9,353.5 L359.3,355.2 L360.6,357.0 L362.0,358.7 L362.0,358.3 L362.1,358.4 L362.3,358.5 L362.5,358.7 L362.6,358.9 L362.9,359.1 L363.1,359.3 L363.4,359.6 L363.7,359.8 L364.0,360.1 L364.3,360.4 L364.6,360.7 L365.0,361.1 L365.4,361.4 L365.8,361.8 L366.2,362.1 L366.6,362.5 L367.0,362.9 L367.5,363.3 L368.0,363.8 L368.4,364.2 L368.9,364.6 L369.5,365.1 L370.0,365.5 L370.5,366.0 L371.1,366.5 L371.6,367.0 L372.2,367.5 L372.8,368.0 L373.4,368.5 L374.0,369.0 L374.6,369.5 L375.3,370.0 L375.9,370.6 L376.6,371.1 L377.3,371.6 L378.0,372.2 L378.6,372.7 L379.4,373.3 L380.1,373.8 L380.8,374.4 L381.5,375.0 L382.3,375.5 L383.1,376.1 L383.8,376.7 L384.6,377.2 L385.4,377.8 L386.2,378.4 L387.0,379.0 L387.8,379.6 L388.7,380.1 L389.5,380.7 L390.4,381.3 L391.2,381.9 L392.1,382.5 L393.0,383.1 L393.9,383.7 L394.8,384.2 L395.7,384.8 L396.6,385.4 L397.5,386.0 L398.4,386.6 L399.4,387.2 L400.3,387.8 L401.3,388.3 L402.3,388.9 L403.3,389.5 L404.2,390.1 L405.2,390.7 L406.2,391.2 L407.3,391.8 L408.3,392.4 L409.3,393.0 L410.4,393.5 L411.4,394.1 L412.5,394.7 L413.5,395.3 L414.6,395.8 L415.7,396.4 L416.8,397.0 L417.9,397.5 L419.0,398.1 L420.1,398.6 L421.2,399.2 L422.4,399.7 L423.5,400.3 L424.7,400.8 L425.8,401.4 L427.0,401.9 L428.2,402.5 L429.3,403.0 L430.5,403.6 L431.7,404.1 L432.9,404.6 L434.1,405.2 L435.3,405.7 L436.6,406.2 L437.8,406.7 L439.0,407.3 L440.3,407.8 L441.6,408.3 L442.8,408.8 L444.1,409.3 L445.4,409.8 L446.7,410.4 L447.9,410.9 L449.2,411.4 L450.6,411.9 L451.9,412.4 L453.2,412.9 L454.5,413.3 L455.9,413.8 L457.2,414.3 L458.6,414.8 L459.9,415.3 L461.3,415.8 L462.7,416.3 L464.0,416.7 L465.4,417.2 L466.8,417.7 L468.2,418.1 L469.6,418.6 L471.0,419.1 L472.5,419.5 L473.9,420.0 L475.3,420.4 L476.8,420.9 L478.2,421.3 L479.7,421.8 L481.1,422.2 L482.6,422.7 L484.1,423.1 L485.6,423.6 L487.1,424.0 L488.6,424.4 L490.1,424.9 L491.6,425.3 L493.1,425.7 L494.6,426.1 L496.1,426.6 L497.7,427.0 L499.2,427.4 L500.8,427.8 L502.3,428.2 L503.9,428.6 L505.5,429.0 L507.0,429.4 L508.6,429.8 L510.2,430.2 L511.8,430.6 L513.4,431.0 L515.0,431.4 L516.6,431.8 L518.2,432.2 L519.9,432.6 L521.5,433.0 L523.1,433.4 L524.8,433.8 L526.4,434.1 L528.1,434.5 L529.8,434.9 L531.4,435.3 L533.1,435.6 L534.8,436.0 L536.5,436.4 L538.2,436.7 L539.9,437.1 L541.6,437.4 L543.3,437.8 L545.0,438.2 L546.7,438.5 L548.5,438.9 L550.2,439.2 L551.9,439.6 L553.7,439.9 L555.4,440.2 L557.2,440.6 L559.0,440.9 L560.8,441.3 L562.5,441.6 L564.3,441.9 L566.1,442.3 L567.9,442.6 L569.7,442.9 L571.5,443.2 L573.3,443.6 L575.2,443.9 L577.0,444.2 L578.8,444.5 L580.7,444.8 L582.5,445.2 L584.3,445.5 L586.2,445.8" stroke="#00d9b3" stroke-width="2.1" stroke-dasharray="9 6"/>
<path d="M336.5,311.8 L340.0,321.7 L340.0,321.8 L340.1,322.1 L340.3,322.4 L340.4,322.8 L340.6,323.2 L340.8,323.7 L341.1,324.2 L341.3,324.8 L341.6,325.4 L341.9,326.1 L342.2,326.8 L342.5,327.5 L342.8,328.2 L343.2,329.0 L343.6,329.7 L343.9,330.5 L344.3,331.4 L344.8,332.2 L345.2,333.0 L345.6,333.9 L346.1,334.8 L346.6,335.6 L347.0,336.5 L347.5,337.4 L348.1,338.3 L348.6,339.3 L349.1,340.2 L349.7,341.1 L350.2,342.0 L350.8,342.9 L351.4,343.9 L352.0,344.8 L352.6,345.8 L353.2,346.7 L353.8,347.6 L354.4,348.6 L355.1,349.5 L355.7,350.4 L356.4,351.4 L357.1,352.3 L357.8,353.3 L358.5,354.2 L359.2,355.1 L359.9,356.1 L360.6,357.0 L361.4,357.9 L362.1,358.8 L362.9,359.8 L363.6,360.7 L364.4,361.6 L365.2,362.5 L366.0,363.4 L366.8,364.3 L367.6,365.3 L368.4,366.2 L369.3,367.1 L370.1,368.0 L370.9,368.9 L371.8,369.7 L372.7,370.6 L373.5,371.5 L374.4,372.4 L375.3,373.3 L376.2,374.2 L377.1,375.0 L378.1,375.9 L379.0,376.8 L379.9,377.6 L380.9,378.5 L381.8,379.3 L382.8,380.2 L383.7,381.0 L384.7,381.9 L385.7,382.7 L386.7,383.5 L387.7,384.4 L388.7,385.2 L389.7,386.0 L390.7,386.9 L391.8,387.7 L392.8,388.5 L393.9,389.3 L394.9,390.1 L396.0,390.9 L397.0,391.7 L398.1,392.5 L399.2,393.3 L400.3,394.1 L401.4,394.9 L402.5,395.7 L403.6,396.5 L404.7,397.3 L405.9,398.0 L407.0,398.8 L408.2,399.6 L409.3,400.3 L410.5,401.1 L411.6,401.9 L412.8,402.6 L414.0,403.4 L415.2,404.1 L416.4,404.9 L417.6,405.6 L418.8,406.4 L420.0,407.1 L421.2,407.8 L422.4,408.6 L423.7,409.3 L424.9,410.0 L426.2,410.8 L427.4,411.5 L428.7,412.2 L430.0,412.9 L431.2,413.6 L432.5,414.3 L433.8,415.1 L435.1,415.8 L436.4,416.5 L437.7,417.2 L439.0,417.9 L440.4,418.6 L441.7,419.2 L443.0,419.9 L444.4,420.6 L445.7,421.3 L447.1,422.0 L448.5,422.7 L449.8,423.3 L451.2,424.0 L452.6,424.7 L454.0,425.3 L455.4,426.0 L456.8,426.7 L458.2,427.3 L459.6,428.0 L461.0,428.6 L462.4,429.3 L463.9,429.9 L465.3,430.5 L466.8,431.2 L468.2,431.8 L469.7,432.4 L471.1,433.1 L472.6,433.7 L474.1,434.3 L475.6,434.9 L477.0,435.6 L478.5,436.2 L480.0,436.8 L481.5,437.4 L483.1,438.0 L484.6,438.6 L486.1,439.2 L487.6,439.8 L489.2,440.4 L490.7,441.0 L492.3,441.6 L493.8,442.2 L495.4,442.7 L496.9,443.3 L498.5,443.9 L500.1,444.5 L501.7,445.1 L503.3,445.6 L504.9,446.2 L506.5,446.8 L508.1,447.3 L509.7,447.9 L511.3,448.4 L512.9,449.0 L514.6,449.5 L516.2,450.1 L517.8,450.6 L519.5,451.2 L521.1,451.7 L522.8,452.2 L524.5,452.8 L526.1,453.3 L527.8,453.8 L529.5,454.4 L531.2,454.9 L532.9,455.4 L534.6,455.9 L536.3,456.5 L538.0,457.0 L539.7,457.5 L541.4,458.0 L543.1,458.5 L544.9,459.0 L546.6,459.5 L548.4,460.0 L550.1,460.5 L551.9,461.0 L553.6,461.5 L555.4,462.0 L557.2,462.5 L558.9,463.0 L560.7,463.4 L562.5,463.9 L564.3,464.4 L566.1,464.9 L567.9,465.3 L569.7,465.8 L571.5,466.3 L573.3,466.8 L575.1,467.2 L577.0,467.7 L578.8,468.1 L580.6,468.6 L582.5,469.1 L584.3,469.5 L586.2,470.0" stroke="#00d9b3" stroke-width="4.2"/>
<path d="M92.0,25.4 L95.0,101.9 L96.2,108.4 L97.4,113.6 L98.7,118.0 L99.9,121.7 L101.1,124.9 L102.3,127.8 L103.5,130.4 L104.8,132.8 L106.0,135.0 L107.2,137.1 L108.4,139.0 L109.6,140.8 L110.9,142.5 L112.1,144.2 L113.3,145.7 L114.5,147.2 L115.8,148.6 L117.0,150.0 L118.2,151.3 L119.4,152.6 L120.6,153.9 L121.9,155.1 L123.1,156.2 L124.3,157.3 L125.5,158.4 L126.7,159.5 L128.0,160.5 L129.2,161.6 L130.4,162.5 L131.6,163.5 L132.8,164.4 L134.1,165.4 L135.3,166.3 L136.5,167.1 L137.7,168.0 L138.9,168.9 L140.2,169.7 L141.4,170.5 L142.6,171.3 L143.8,172.1 L145.1,172.9 L146.3,173.6 L147.5,174.4 L148.7,175.1 L149.9,175.8 L151.2,176.5 L152.4,177.2 L153.6,177.9 L154.8,178.6 L156.0,179.2 L157.3,179.9 L158.5,180.5 L159.7,181.2 L165.1,224.2 L165.1,224.3 L165.2,224.6 L165.3,224.9 L165.4,225.3 L165.6,225.8 L165.7,226.3 L165.9,226.8 L166.1,227.4 L166.3,228.1 L166.5,228.7 L166.7,229.4 L166.9,230.1 L167.2,230.9 L167.5,231.6 L167.7,232.4 L168.0,233.1 L168.3,233.9 L168.6,234.7 L169.0,235.5 L169.3,236.3 L169.6,237.1 L170.0,237.9 L170.3,238.7 L170.7,239.5 L171.1,240.3 L171.5,241.0 L171.9,241.8 L172.3,242.6 L172.7,243.4 L173.1,244.2 L173.5,244.9 L174.0,245.7 L174.4,246.4 L174.9,247.2 L175.3,247.9 L175.8,248.7 L176.3,249.4 L176.8,250.1 L177.3,250.8 L177.8,251.5 L178.3,252.2 L178.8,252.9 L179.3,253.6 L179.9,254.3 L180.4,255.0 L181.0,255.6 L181.5,256.3 L182.1,256.9 L182.7,257.6 L183.2,258.2 L183.8,258.8 L184.4,259.5 L185.0,260.1 L185.6,260.7 L186.2,261.3 L186.8,261.9 L187.5,262.5 L188.1,263.0 L188.7,263.6 L189.4,264.2 L190.0,264.7 L190.7,265.3 L191.3,265.8 L192.0,266.4 L192.7,266.9 L193.4,267.5 L194.1,268.0 L194.8,268.5 L195.5,269.0 L196.2,269.5 L196.9,270.0 L197.6,270.5 L198.3,271.0 L199.1,271.5 L199.8,272.0 L200.5,272.5 L201.3,272.9 L202.0,273.4 L202.8,273.9 L203.6,274.3 L204.3,274.8 L205.1,275.2 L205.9,275.7 L206.7,276.1 L207.5,276.6 L208.3,277.0 L209.1,277.4 L209.9,277.8 L210.7,278.3 L211.5,278.7 L212.4,279.1 L213.2,279.5 L214.0,279.9 L214.9,280.3 L215.7,280.7 L216.6,281.1 L217.5,281.5 L218.3,281.9 L219.2,282.3 L220.1,282.6 L221.0,283.0 L221.8,283.4 L222.7,283.8 L223.6,284.1 L224.5,284.5 L225.4,284.9 L226.4,285.2 L227.3,285.6 L228.2,285.9 L229.1,286.3 L230.1,286.6 L231.0,287.0 L231.9,287.3 L232.9,287.7 L233.8,288.0 L234.8,288.3 L235.8,288.7 L236.7,289.0 L237.7,289.3 L238.7,289.6 L239.7,290.0 L240.7,290.3 L241.7,290.6 L242.7,290.9 L243.7,291.2 L244.7,291.5 L245.7,291.8 L246.7,292.1 L247.7,292.4 L248.7,292.7 L249.8,293.0 L250.8,293.3 L251.9,293.6 L252.9,293.9 L253.9,294.2 L255.0,294.5 L256.1,294.8 L257.1,295.1 L258.2,295.4 L259.3,295.7 L260.4,295.9 L261.4,296.2 L262.5,296.5 L263.6,296.8 L264.7,297.0 L265.8,297.3 L266.9,297.6 L268.0,297.9 L269.1,298.1 L270.3,298.4 L271.4,298.7 L272.5,298.9 L273.6,299.2 L274.8,299.4 L275.9,299.7 L277.1,300.0 L278.2,300.2 L279.4,300.5 L280.5,300.7 L281.7,301.0 L282.9,301.2 L284.0,301.5 L285.2,301.7 L286.4,302.0 L287.6,302.2 L288.8,302.4 L290.0,302.7 L291.2,302.9 L292.4,303.2 L293.6,303.4 L294.8,303.6 L296.0,303.9 L297.2,304.1 L298.5,304.3 L299.7,304.6 L300.9,304.8 L302.1,305.0 L303.4,305.3 L304.6,305.5 L305.9,305.7 L307.1,306.0 L308.4,306.2 L309.7,306.4 L310.9,306.6 L312.2,306.8 L313.5,307.1 L314.7,307.3 L316.0,307.5 L317.3,307.7 L318.6,307.9 L319.9,308.2 L321.2,308.4 L322.5,308.6 L323.8,308.8 L325.1,309.0 L326.4,309.2 L327.8,309.4 L329.1,309.6 L330.4,309.9 L331.7,310.1 L333.1,310.3 L334.4,310.5 L335.8,310.7 L337.1,310.9 L338.4,311.1 L339.8,311.3 L341.2,311.5 L342.5,311.7 L343.9,311.9 L345.3,312.1 L346.6,312.3 L348.0,312.5 L349.4,312.7 L350.8,312.9 L352.2,313.1 L353.6,313.3 L355.0,313.5 L356.4,313.7 L357.8,313.9 L359.2,314.1 L360.6,314.3 L362.0,314.4 L363.4,314.6 L364.9,314.8 L366.3,315.0 L367.7,315.2 L369.2,315.4 L370.6,315.6 L372.0,315.8 L373.5,316.0 L374.9,316.1 L376.4,316.3 L377.9,316.5 L379.3,316.7 L380.8,316.9 L382.3,317.1 L383.7,317.2 L385.2,317.4 L386.7,317.6 L388.2,317.8 L389.7,318.0 L391.2,318.1 L392.7,318.3 L394.2,318.5 L395.7,318.7 L397.2,318.9 L398.7,319.0 L400.2,319.2 L401.7,319.4 L403.2,319.6 L404.8,319.7 L406.3,319.9 L407.8,320.1 L409.4,320.2 L410.9,320.4 L412.4,320.6 L414.0,320.8 L415.5,320.9 L417.1,321.1 L418.7,321.3 L420.2,321.4 L421.8,321.6 L423.4,321.8 L424.9,321.9 L426.5,322.1 L428.1,322.3 L429.7,322.4 L431.3,322.6 L432.8,322.8 L434.4,322.9 L436.0,323.1 L437.6,323.3 L439.2,323.4 L440.9,323.6 L442.5,323.8 L444.1,323.9 L445.7,324.1 L447.3,324.2 L448.9,324.4 L450.6,324.6 L452.2,324.7 L453.8,324.9 L455.5,325.0 L457.1,325.2 L458.8,325.4 L460.4,325.5 L462.1,325.7 L463.7,325.8 L465.4,326.0 L467.1,326.1 L468.7,326.3 L470.4,326.4 L472.1,326.6 L473.8,326.8 L475.4,326.9 L477.1,327.1 L478.8,327.2 L480.5,327.4 L482.2,327.5 L483.9,327.7 L485.6,327.8 L487.3,328.0 L489.0,328.1 L490.7,328.3 L492.4,328.4 L494.2,328.6 L495.9,328.7 L497.6,328.9 L499.3,329.0 L501.1,329.2 L502.8,329.3 L504.5,329.5 L506.3,329.6 L508.0,329.8 L509.8,329.9 L511.5,330.1 L513.3,330.2 L515.0,330.4 L516.8,330.5 L518.6,330.7 L520.3,330.8 L522.1,330.9 L523.9,331.1 L525.7,331.2 L527.5,331.4 L529.2,331.5 L531.0,331.7 L532.8,331.8 L534.6,331.9 L536.4,332.1 L538.2,332.2 L540.0,332.4 L541.8,332.5 L543.6,332.7 L545.5,332.8 L547.3,332.9 L549.1,333.1 L550.9,333.2 L552.7,333.4 L554.6,333.5 L556.4,333.6 L558.2,333.8 L560.1,333.9 L561.9,334.1 L563.8,334.2 L565.6,334.3 L567.5,334.5 L569.3,334.6 L571.2,334.7 L573.1,334.9 L574.9,335.0 L576.8,335.1 L578.7,335.3 L580.6,335.4 L582.4,335.6 L584.3,335.7 L586.2,335.8" stroke="#0000b0" stroke-width="4.4"/>
</g>
<g fill="none">
<path d="M288,50.9 H337.5" stroke="#0000b0" stroke-width="4.4" stroke-linecap="round"/>
<path d="M287,85.4 H338.8" stroke="#0000b0" stroke-width="2.2" stroke-dasharray="9.4 5.5"/>
<path d="M287,120.2 H338.8" stroke="#0000b0" stroke-width="2.2" stroke-dasharray="4.6 2.5"/>
<path d="M288.2,155.0 H337.3" stroke="#00d9b3" stroke-width="4.3" stroke-linecap="round"/>
<path d="M287,189.7 H338.5" stroke="#00d9b3" stroke-width="2.1" stroke-dasharray="9 6"/>
</g>
<g font-family="Liberation Serif, serif" font-size="21.1" fill="#000">
<text x="89.1" y="545.4" text-anchor="middle">0</text>
<text x="188.5" y="545.4" text-anchor="middle">2</text>
<text x="287.9" y="545.4" text-anchor="middle">4</text>
<text x="387.4" y="545.4" text-anchor="middle">6</text>
<text x="486.8" y="545.4" text-anchor="middle">8</text>
<text x="586.2" y="545.4" text-anchor="middle">10</text>
<text x="79.3" y="89.9" text-anchor="end">0.1</text>
<text x="79.3" y="142.0" text-anchor="end">0.07</text>
<text x="79.3" y="191.2" text-anchor="end">0.05</text>
<text x="79.3" y="265.9" text-anchor="end">0.03</text>
<text x="79.3" y="325.2" text-anchor="end">0.02</text>
<text x="79.3" y="367.2" text-anchor="end">0.015</text>
<text x="79.3" y="426.5" text-anchor="end">0.01</text>
<text x="337" y="566.6" text-anchor="middle">Running time [years]</text>
<text x="355.5" y="55.7" font-size="20.9">ND after 1.5 years</text>
<text x="355.5" y="90.2" font-size="20.9">ND after 2.5 years</text>
<text x="355.5" y="125.0" font-size="20.9">ND after 5.0 years</text>
<text y="159.6"><tspan x="355.3">TC (</tspan><tspan x="409" font-size="15.0" dy="4.6">bin−to−bin</tspan><tspan x="485" dy="-4.6">=</tspan><tspan x="502.6">0.0%)</tspan></text>
<text transform="translate(393.8,159.6) scale(1.3,0.96)" font-style="italic">σ</text>
<text y="194.3"><tspan x="355.3">TC (</tspan><tspan x="409" font-size="15.0" dy="4.6">bin−to−bin</tspan><tspan x="485" dy="-4.6">=</tspan><tspan x="502.6">0.5%)</tspan></text>
<text transform="translate(393.8,194.3) scale(1.3,0.96)" font-style="italic">σ</text>
<text transform="translate(20.8,409.3) rotate(-90)">Sin<tspan font-size="15.0" dy="-9.3">2</tspan><tspan dy="9.3" dx="1.5">2</tspan><tspan font-style="italic">θ</tspan><tspan font-size="15.0" dy="3.6">13</tspan><tspan dy="-3.6"> sensitivity at 90%</tspan><tspan dx="-2.6"> C.L.</tspan></text>
</g>
<text x="98" y="511" font-family="Liberation Sans, sans-serif" font-size="12.1" fill="#000">GLoBES 2006</text>
</svg>
</body></html>
